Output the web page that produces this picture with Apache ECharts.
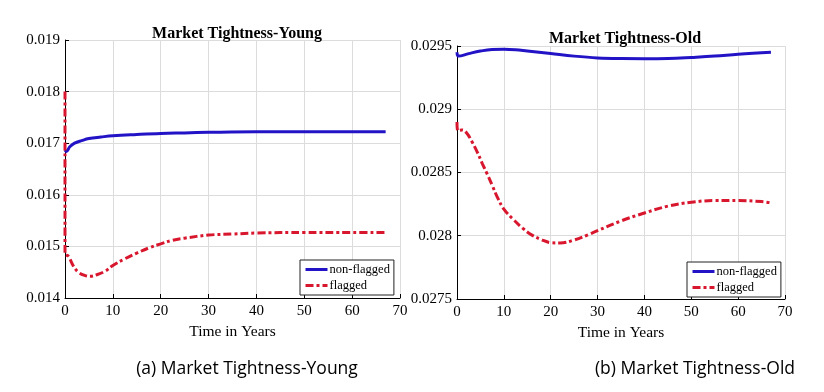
<!DOCTYPE html>
<html>
<head>
<meta charset="utf-8">
<script src="https://cdn.jsdelivr.net/npm/echarts@6/dist/echarts.min.js"></script>
<style>
html,body{margin:0;padding:0;background:#fff;}
#c{width:824px;height:392px;}
</style>
</head>
<body>
<div id="c"></div>
<script>
// ---- data ----
var youngTitle = 'Market Tightness-Young';
var oldTitle = 'Market Tightness-Old';
var captionA = '(a) Market Tightness-Young';
var captionB = '(b) Market Tightness-Old';
var seriesNames = ['non-flagged', 'flagged'];
var xTicks = [0, 10, 20, 30, 40, 50, 60, 70];
var youngYTicks = [0.014, 0.015, 0.016, 0.017, 0.018, 0.019];
var oldYTicks = [0.0275, 0.028, 0.0285, 0.029, 0.0295];

var youngNonFlagged = [
  [0,0.01687],[0.3,0.01684],[1,0.01693],[2,0.01700],[3.5,0.01705],[5,0.01709],
  [7.5,0.01712],[10,0.017145],[15,0.01717],[20,0.01719],[25,0.01720],[30,0.01721],
  [40,0.01722],[50,0.01722],[60,0.01722],[67,0.01722]
];
var youngFlagged = [
  [0,0.0180],[0,0.01485],[0.7,0.01481],[1.75,0.01462],[2.8,0.01450],[4.2,0.014435],
  [5.25,0.01442],[6.6,0.01445],[8.4,0.01452],[10,0.01463],[12.5,0.01476],[15,0.01487],
  [17.5,0.01497],[20,0.01505],[22.5,0.01512],[25,0.01516],[30,0.01522],[35,0.01524],
  [40,0.01526],[50,0.01527],[60,0.01527],[67,0.01527]
];
var oldNonFlagged = [
  [0,0.02945],[0.3,0.02942],[2.5,0.02944],[5,0.02946],[7.5,0.029472],[10,0.029474],
  [12.5,0.02947],[15,0.02946],[20,0.02944],[25,0.02942],[30,0.029406],[35,0.029401],
  [40,0.02940],[45,0.029402],[50,0.02941],[55,0.02942],[60,0.029435],[67,0.02945]
];
var oldFlagged = [
  [0,0.02890],[0.2,0.02883],[1.1,0.028836],[2.1,0.02881],[3.2,0.028743],[4.3,0.028663],
  [5.4,0.028571],[6.4,0.028492],[7.5,0.0284],[8.6,0.028306],[10,0.02821],[12,0.02813],
  [14,0.02806],[16,0.028005],[18,0.02797],[20,0.027945],[22,0.027943],[25,0.027966],
  [28,0.028008],[30,0.02804],[35,0.028117],[40,0.02818],[45,0.028234],[50,0.028265],
  [55,0.028278],[60,0.028278],[65,0.02827],[67,0.02826]
];

// ---- styles ----
var SERIF = '"Liberation Serif", "DejaVu Serif", serif';
var SANS = '"Open Sans", "Noto Sans", sans-serif';
var BLUE = '#2214c6';
var RED = '#d8172e';

function xAxisCfg(gi) {
  return {
    type: 'value', gridIndex: gi,
    min: xTicks[0], max: xTicks[xTicks.length - 1], interval: 10,
    name: 'Time in Years', nameLocation: 'middle', nameGap: 26,
    nameTextStyle: { fontFamily: SERIF, fontSize: 15.5, color: '#000' },
    axisLine: { onZero: false, lineStyle: { color: '#000', width: 1 } },
    axisTick: { inside: true, length: 4, lineStyle: { color: '#000' } },
    axisLabel: { fontFamily: SERIF, fontSize: 15, color: '#000', margin: 6 },
    splitLine: { show: true, lineStyle: { color: '#dcdcdc', width: 1 } }
  };
}
function yAxisCfg(gi, ticks, dec) {
  return {
    type: 'value', gridIndex: gi,
    min: ticks[0], max: ticks[ticks.length - 1], interval: ticks[1] - ticks[0],
    axisLine: { show: true, onZero: false, lineStyle: { color: '#000', width: 1 } },
    axisTick: { show: true, inside: true, length: 4, lineStyle: { color: '#000' } },
    axisLabel: {
      fontFamily: SERIF, fontSize: 15, color: '#000', margin: 5,
      formatter: function (v) { return String(parseFloat(v.toFixed(dec))); }
    },
    splitLine: { show: true, lineStyle: { color: '#dcdcdc', width: 1 } }
  };
}
function lineSeries(name, data, gi, color, dashed) {
  return {
    name: name, type: 'line', data: data,
    xAxisIndex: gi, yAxisIndex: gi,
    showSymbol: false, symbol: 'none', smooth: 0.4,
    lineStyle: dashed ? { color: color, width: 3, type: [8, 3, 3, 3] } : { color: color, width: 3 },
    itemStyle: { color: color },
    animation: false
  };
}
function legendCfg(left, top) {
  return {
    data: seriesNames, orient: 'vertical', left: left, top: top,
    backgroundColor: '#fff', borderColor: '#222', borderWidth: 1,
    padding: [3, 4, 3, 4], itemGap: 3, itemWidth: 22, itemHeight: 10,
    itemStyle: { opacity: 0 },
    lineStyle: { width: 3 },
    textStyle: { fontFamily: SERIF, fontSize: 12.5, color: '#000', padding: [0, 0, 0, -3] },
    selectedMode: false
  };
}

var chart = echarts.init(document.getElementById('c'), null, { renderer: 'canvas' });
chart.setOption({
  backgroundColor: '#fff',
  animation: false,
  title: [
    { text: youngTitle, left: 232, top: 21, textAlign: 'center',
      textStyle: { fontFamily: SERIF, fontSize: 16, fontWeight: 'bold', color: '#000' } },
    { text: oldTitle, left: 620, top: 26, textAlign: 'center',
      textStyle: { fontFamily: SERIF, fontSize: 16, fontWeight: 'bold', color: '#000' } }
  ],
  grid: [
    { left: 65, right: 424, top: 40, bottom: 94, containLabel: false },
    { left: 457, right: 39, top: 46, bottom: 93, containLabel: false }
  ],
  xAxis: [xAxisCfg(0), xAxisCfg(1)],
  yAxis: [yAxisCfg(0, youngYTicks, 3), yAxisCfg(1, oldYTicks, 4)],
  legend: [legendCfg(300, 260), legendCfg(687, 262)],
  series: [
    lineSeries(seriesNames[0], youngNonFlagged, 0, BLUE, false),
    lineSeries(seriesNames[1], youngFlagged, 0, RED, true),
    lineSeries(seriesNames[0], oldNonFlagged, 1, BLUE, false),
    lineSeries(seriesNames[1], oldFlagged, 1, RED, true)
  ],
  graphic: [
    { type: 'text',
      style: { text: captionA, x: 247, y: 369, textAlign: 'center', textVerticalAlign: 'middle',
               fontFamily: SANS, fontSize: 17.5, fill: '#000' } },
    { type: 'text',
      style: { text: captionB, x: 695, y: 369, textAlign: 'center', textVerticalAlign: 'middle',
               fontFamily: SANS, fontSize: 17.5, fill: '#000' } }
  ]
});
</script>
</body>
</html>
